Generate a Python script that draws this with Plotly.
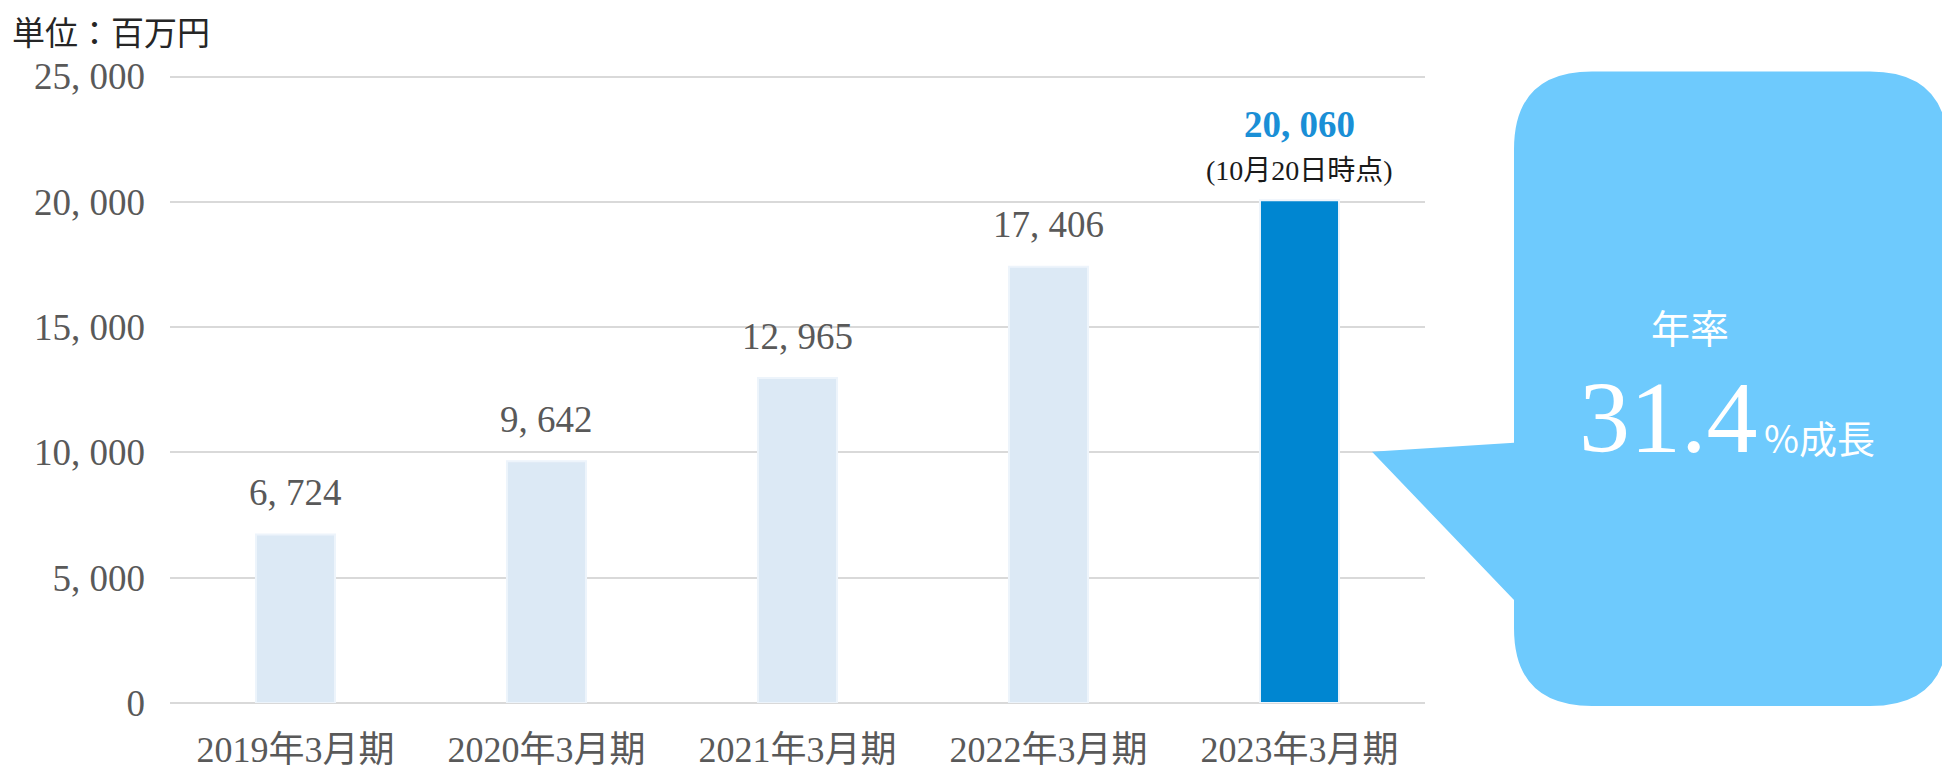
import plotly.graph_objects as go

categories = ["2019年3月期", "2020年3月期", "2021年3月期", "2022年3月期", "2023年3月期"]
values = [6724, 9642, 12965, 17406, 20060]
bar_colors = ["#dce9f5", "#dce9f5", "#dce9f5", "#dce9f5", "#0086d1"]
y_tickvals = [0, 5000, 10000, 15000, 20000, 25000]
y_ticktext = ["0", "5, 000", "10, 000", "15, 000", "20, 000", "25, 000"]
unit_label = "単位：百万円"
note_last = "(10月20日時点)"
callout_title = "年率"
callout_value = "31.4"
callout_suffix = "%成長"

OFF = 8  # page body margin
W, H = 1950 - OFF, 770 - OFF
YMAX = 25060
L, R, B = 170, 1425, 703
T = B - 626 * YMAX / 25000


def px_x(px):
    return (px - L) / (R - L)


def px_y(py):
    return (B - py) / (B - T)


SERIF = "Liberation Serif, Noto Sans CJK JP, serif"

fig = go.Figure()
fig.add_trace(go.Bar(
    x=categories, y=values,
    marker=dict(color=bar_colors, line=dict(color="#edf4fb", width=2)),
    width=0.315, hoverinfo="skip", showlegend=False,
))

annotations = []
for i, (c, v) in enumerate(zip(categories, values)):
    txt = f"{v:,}".replace(",", ", ")
    if i == len(values) - 1:
        annotations.append(dict(x=c, y=v, xref="x", yref="y", text=f"<b>{txt}</b>",
                                showarrow=False, yanchor="middle", yshift=76,
                                font=dict(family=SERIF, size=37, color="#1a8fd6")))
        annotations.append(dict(x=c, y=v, xref="x", yref="y", text=note_last,
                                showarrow=False, yanchor="middle", yshift=30,
                                font=dict(family=SERIF, size=28, color="#1a1a1a")))
    else:
        annotations.append(dict(x=c, y=v, xref="x", yref="y", text=txt,
                                showarrow=False, yanchor="middle", yshift=42,
                                font=dict(family=SERIF, size=37, color="#595959")))

annotations.append(dict(x=px_x(10), y=px_y(32), xref="paper", yref="paper",
                        text=unit_label, showarrow=False, xanchor="left", yanchor="middle",
                        font=dict(family="Noto Sans CJK JP", size=33, color="#262626")))

# callout shape
x0, x1, y0, y1, r = 1514, 1948, 72, 706, 78
tip = (1372, 452)
ta, tb = 443, 600
pts = []


def P(cmd, *xy):
    s = cmd
    for j in range(0, len(xy), 2):
        s += f" {px_x(xy[j]):.5f},{px_y(xy[j+1]):.5f}"
    pts.append(s)


P("M", x0 + r, y0)
P("L", x1 - r, y0)
P("Q", x1, y0, x1, y0 + r)
P("L", x1, y1 - r)
P("Q", x1, y1, x1 - r, y1)
P("L", x0 + r, y1)
P("Q", x0, y1, x0, y1 - r)
P("L", x0, tb)
P("L", tip[0], tip[1])
P("L", x0, ta)
P("L", x0, y0 + r)
P("Q", x0, y0, x0 + r, y0)
path = " ".join(pts) + " Z"

shapes = [dict(type="path", path=path, xref="paper", yref="paper",
               fillcolor="#6ecafd", line=dict(width=0), layer="above")]

annotations.append(dict(x=px_x(1731), y=px_y(326), xref="paper", yref="paper",
                        text=callout_title, showarrow=False, yanchor="middle",
                        font=dict(family="Noto Sans CJK JP", size=39, color="white")))
annotations.append(dict(x=px_x(1760), y=px_y(418), xref="paper", yref="paper",
                        text=callout_value, showarrow=False, xanchor="right", yanchor="middle",
                        font=dict(family="Liberation Serif", size=102, color="white")))
annotations.append(dict(x=px_x(1762), y=px_y(437), xref="paper", yref="paper",
                        text=callout_suffix, showarrow=False, xanchor="left", yanchor="middle",
                        font=dict(family="Noto Sans CJK JP", size=38, color="white")))

fig.update_layout(
    width=W, height=H,
    margin=dict(l=L - OFF, r=W - (R - OFF), t=T - OFF, b=H - (B - OFF)),
    paper_bgcolor="white", plot_bgcolor="white",
    bargap=0.685,
    shapes=shapes, annotations=annotations,
    xaxis=dict(showgrid=False, showline=False, ticks="", ticklabelstandoff=22,
               automargin=False,
               tickfont=dict(family=SERIF, size=36, color="#595959")),
    yaxis=dict(range=[0, YMAX], tickvals=y_tickvals, ticktext=y_ticktext,
               showgrid=True, gridcolor="#d9d9d9", gridwidth=2,
               zeroline=True, zerolinecolor="#d9d9d9", zerolinewidth=2,
               showline=False, ticks="", ticklabelstandoff=24, automargin=False,
               tickfont=dict(family=SERIF, size=37, color="#595959")),
)

fig.write_html("out.html")
